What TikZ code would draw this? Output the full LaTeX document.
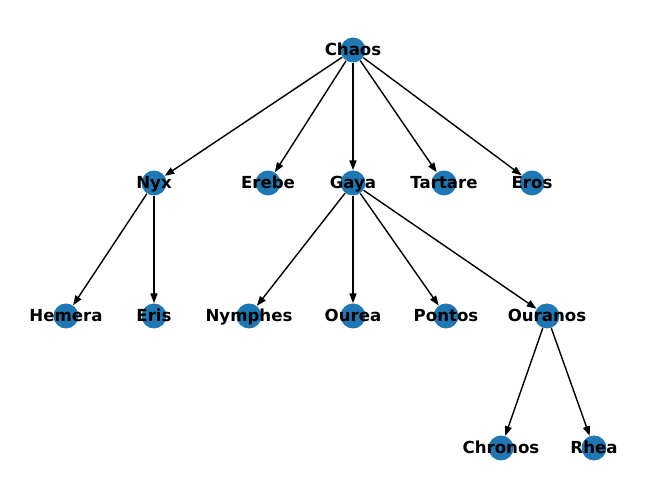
\documentclass[tikz,border=0pt]{standalone}
\usepackage{fontspec}
\setsansfont{DejaVu Sans}
\usetikzlibrary{arrows.meta}
\definecolor{nodeblue}{HTML}{1F77B4}

\begin{document}
\begin{tikzpicture}[
    x=0.02cm, y=-0.02cm,
    gnode/.style={circle, fill=nodeblue, draw=none, minimum size=0.5cm, inner sep=0pt},
    glabel/.style={font=\sffamily\bfseries\fontsize{9.45}{11}\selectfont, inner sep=0pt,
        text height=9pt, text depth=2.2pt},
    garrow/.style={-{Triangle[length=5.5pt, width=4pt]}, line width=0.8pt}
]
\useasboundingbox (0,0) rectangle (660,499);
% --- Nodes (circles) ---
\foreach \n/\x/\y in {Chaos/353/50,
    Nyx/154/183, Erebe/268/183, Gaya/353/183, Tartare/444/183, Eros/532/183,
    Hemera/66/316, Eris/154/316, Nymphes/249/316, Ourea/353/316, Pontos/446/316, Ouranos/547/316,
    Chronos/501/448, Rhea/594/448} {
    \node[gnode] (\n) at (\x, \y) {};
}
% --- Edges ---
\foreach \a/\b in {Chaos/Nyx, Chaos/Erebe, Chaos/Gaya, Chaos/Tartare, Chaos/Eros,
    Nyx/Hemera, Nyx/Eris,
    Gaya/Nymphes, Gaya/Ourea, Gaya/Pontos, Gaya/Ouranos,
    Ouranos/Chronos, Ouranos/Rhea} {
    \draw[garrow] (\a) -- (\b);
}
% --- Labels ---
\foreach \n in {Chaos, Nyx, Erebe, Gaya, Tartare, Eros, Hemera, Eris,
    Nymphes, Ourea, Pontos, Ouranos, Chronos, Rhea} {
    \node[glabel] at (\n) {\n};
}
\end{tikzpicture}
\end{document}
